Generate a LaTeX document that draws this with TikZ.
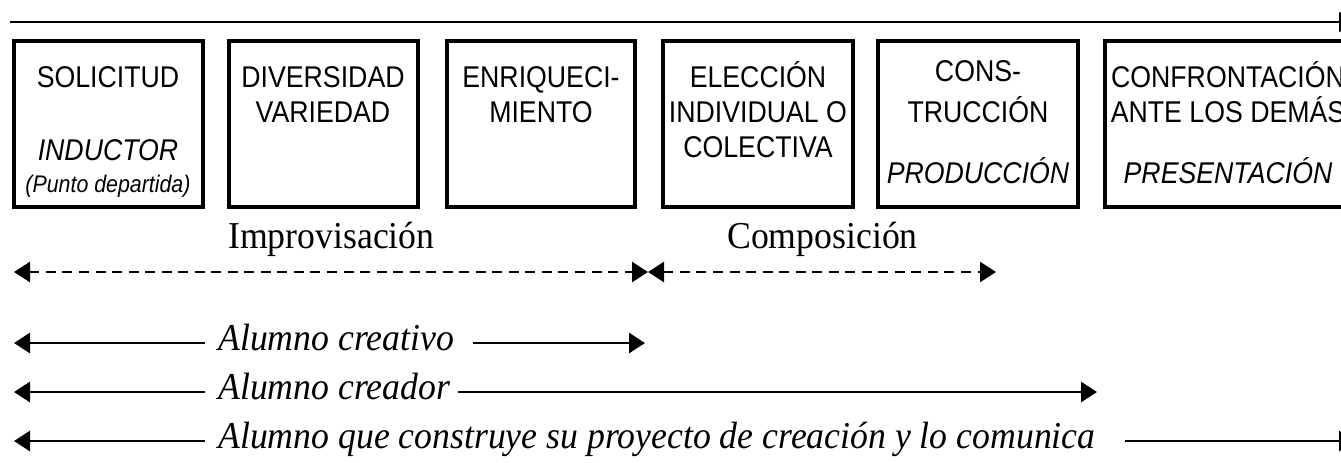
\documentclass[tikz,border=0pt]{standalone}
\usepackage{fontspec}
\setmainfont{Liberation Serif}
\newfontfamily\bxf[FakeStretch=0.89]{Liberation Sans}
\newfontfamily\srf[FakeStretch=0.94]{Liberation Serif}
\usetikzlibrary{arrows.meta}
\begin{document}
\begin{tikzpicture}[x=0.75pt,y=-0.75pt,
  box/.style={draw,line width=2.3pt,inner sep=0pt,outer sep=0pt,minimum height={166*0.75pt}},
  bt/.style={font=\bxf\fontsize{22.5}{27}\selectfont,anchor=base,inner sep=0pt},
  bti/.style={font=\bxf\itshape\fontsize{22.5}{27}\selectfont,anchor=base,inner sep=0pt},
  sml/.style={font=\bxf\itshape\fontsize{18}{20}\selectfont,anchor=base,inner sep=0pt},
  lab/.style={font=\srf\fontsize{28.5}{32}\selectfont,anchor=base west,inner sep=0pt},
  labi/.style={font=\srf\itshape\fontsize{28.5}{32}\selectfont,anchor=base west,inner sep=0pt},
  tipb/.style={{Triangle[length=12pt,width=15pt]}-{Triangle[length=12pt,width=15pt]}},
  tipr/.style={-{Triangle[length=12pt,width=15pt]}},
  solidln/.style={line width=2.2pt},
  dashln/.style={line width=1.9pt,dash pattern=on 7.5pt off 4.9pt}]
\useasboundingbox (0,0) rectangle (1341,462);
\begin{scope}
\clip (0,0) rectangle (1341,462);
% top line
\coordinate (tl) at (10,22);
\coordinate (tr) at (1355,22);
\draw[line width=1.8pt,tipr] (tl) -- (tr);
% boxes
\node[box,minimum width={189*0.75pt}] (b1) at (108.5,124) {};
\node[box,minimum width={189*0.75pt}] (b2) at (323.5,124) {};
\node[box,minimum width={188*0.75pt}] (b3) at (541,124) {};
\node[box,minimum width={190*0.75pt}] (b4) at (758,124) {};
\node[box,minimum width={200*0.75pt}] (b5) at (978,124) {};
\node[box,minimum width={246*0.75pt}] (b6) at (1228,124) {};
% box texts
\node[bt] (t11) at (108,87) {SOLICITUD};
\node[bti] (t12) at (108,160) {INDUCTOR};
\node[sml] (t13) at (108,192) {(Punto departida)};
\node[bt] (t21) at (323,87) {DIVERSIDAD};
\node[bt] (t22) at (323,122) {VARIEDAD};
\node[bt] (t31) at (541,87) {ENRIQUECI-};
\node[bt] (t32) at (541,122) {MIENTO};
\node[bt] (t41) at (758,87) {ELECCIÓN};
\node[bt] (t42) at (758,122) {INDIVIDUAL O};
\node[bt] (t43) at (758,157) {COLECTIVA};
\node[bt] (t51) at (978,81) {CONS-};
\node[bt] (t52) at (978,122) {TRUCCIÓN};
\node[bti] (t53) at (978,183) {PRODUCCIÓN};
\node[bt] (t61) at (1228,87) {CONFRONTACIÓN};
\node[bt] (t62) at (1228,122) {ANTE LOS DEMÁS};
\node[bti] (t63) at (1228,183) {PRESENTACIÓN};
% phase labels
\node[lab] (imp) at (228,248) {Improvisación};
\node[lab] (com) at (727,248) {Composición};
% dashed arrows
\coordinate (d1) at (14,272);
\coordinate (d2) at (648,272);
\coordinate (d3) at (996,272);
\draw[dashln,tipb] (d1) -- (d2);
\draw[dashln,tipb] (d2) -- (d3);
% row 1
\coordinate (r1a) at (14,343);
\coordinate (r1b) at (205,343);
\coordinate (r1c) at (473,343);
\coordinate (r1d) at (645,343);
\node[labi] (al1) at (218,350) {Alumno creativo};
\draw[solidln,tipr] (r1b) -- (r1a);
\draw[solidln,tipr] (r1c) -- (r1d);
% row 2
\coordinate (r2a) at (14,392);
\coordinate (r2b) at (205,392);
\coordinate (r2c) at (458,392);
\coordinate (r2d) at (1097,392);
\node[labi] (al2) at (218,399) {Alumno creador};
\draw[solidln,tipr] (r2b) -- (r2a);
\draw[solidln,tipr] (r2c) -- (r2d);
% row 3
\coordinate (r3a) at (14,441);
\coordinate (r3b) at (205,441);
\coordinate (r3c) at (1125,441);
\coordinate (r3d) at (1355,441);
\node[labi] (al3) at (218,448) {Alumno que construye su proyecto de creación y lo comunica};
\draw[solidln,tipr] (r3b) -- (r3a);
\draw[solidln,tipr] (r3c) -- (r3d);
\end{scope}
\end{tikzpicture}
\end{document}
